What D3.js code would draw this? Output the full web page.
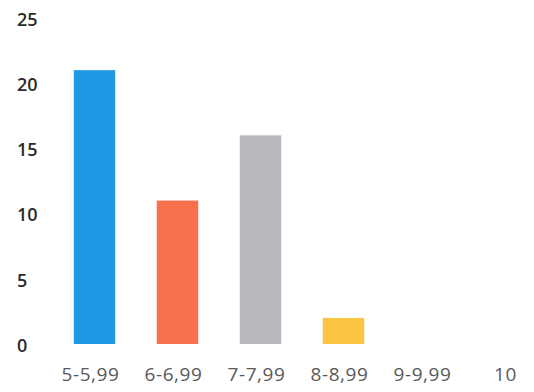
<!DOCTYPE html>
<html>
<head>
<meta charset="utf-8">
<script src="https://cdn.jsdelivr.net/npm/d3@7"></script>
<style>
body { margin: 0; background: #fff; }
#canvas svg { display: block; }
</style>
</head>
<body>
<div id="canvas"></div>
<script>
// ----------------------------------------------------------
// DATA -----------------------------------------------------
// ----------------------------------------------------------
var categories = ["5-5,99", "6-6,99", "7-7,99", "8-8,99", "9-9,99", "10"];
var counts = [21, 11, 16, 2, 0, 0];
var bar_colors = ["#1e98e2", "#f6714c", "#b9babe", "#fcc443", "#5b9bd5", "#70ad47"];
var y_ticks = [0, 5, 10, 15, 20, 25];

var data_input = categories.map((c, i) => ({ term: c, value: counts[i], color: bar_colors[i] }));

// ----------------------------------------------------------
// STRUCTURE ------------------------------------------------
// ----------------------------------------------------------
var container_width = 534;
var container_height = 392;

var container = d3.select("#canvas").append("svg")
.attr("width", container_width)
.attr("height", container_height)
.style("background-color", "#fff");

var gfx_group = container.append("g").attr("class", "gfx_group");

// scales
var yScale = d3.scaleLinear()
.domain([0, 25])
.range([344, 18]);

var xScale = d3.scaleBand()
.domain(categories)
.range([53, 551])
.paddingInner(0.5)
.paddingOuter(0.25);

// left axis - labels only
var axis_left = gfx_group.append("g")
.attr("class", "gfx_scale_left")
.attr("transform", "translate(17, 0)")
.call(d3.axisLeft(yScale).tickValues(y_ticks).tickSize(0).tickPadding(0));
axis_left.select(".domain").remove();
axis_left.selectAll("text")
.attr("text-anchor", "start")
.attr("x", 0)
.attr("dy", "0.4em")
.style("font-family", "'Open Sans', sans-serif")
.style("font-size", "18px")
.style("font-weight", "600")
.style("fill", "#2b2b2b");

// bottom axis - labels only
var axis_bottom = gfx_group.append("g")
.attr("class", "gfx_scale_bottom")
.attr("transform", "translate(-4, 381)")
.call(d3.axisBottom(xScale).tickSize(0).tickPadding(0));
axis_bottom.select(".domain").remove();
axis_bottom.selectAll("text")
.attr("y", 0)
.attr("dy", 0)
.style("font-family", "'Open Sans', sans-serif")
.style("font-size", "19px")
.style("letter-spacing", "0.6px")
.style("fill", "#595959");

// BARS -----------------------------------------------------
gfx_group.selectAll(".gfx_bar")
.data(data_input.filter((d) => d.value > 0))
.enter()
.append("rect")
.attr("class", "gfx_bar")
.attr("x", (d) => xScale(d.term))
.attr("y", (d) => yScale(d.value))
.attr("width", xScale.bandwidth())
.attr("height", (d) => yScale(0) - yScale(d.value))
.style("fill", (d) => d.color);
</script>
</body>
</html>
